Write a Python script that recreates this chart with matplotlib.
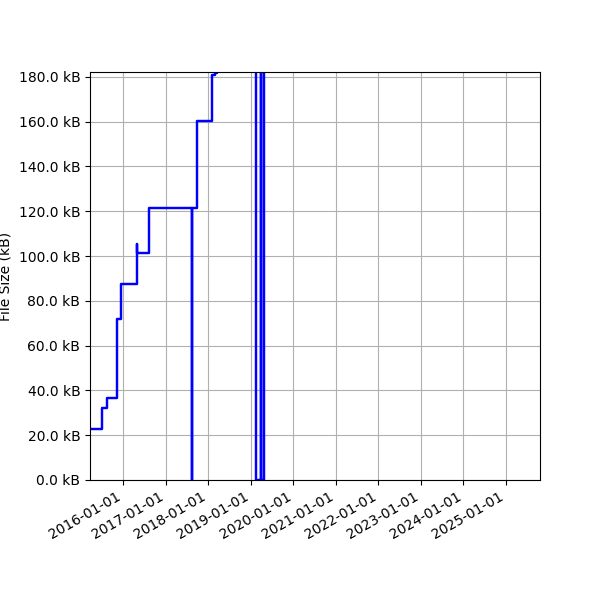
import numpy as np
import pandas as pd
import matplotlib
matplotlib.use("Agg")
import matplotlib.pyplot as plt
import matplotlib.ticker as mticker

# file size history (kB); values above 182 kB fall outside the view
dates = pd.to_datetime([
    "2015-03-21", "2015-07-02", "2015-08-12", "2015-11-05", "2015-12-10",
    "2016-04-25", "2016-04-27", "2016-08-09", "2017-08-15", "2017-08-17",
    "2017-09-29", "2018-02-04", "2018-02-28", "2018-03-17", "2019-02-15",
    "2019-03-29", "2019-03-31", "2019-04-25", "2025-10-20",
])
sizes_kb = [
    22.8, 32.2, 36.8, 71.9, 87.5,
    105.4, 101.4, 121.3, 0.0, 121.3,
    160.3, 180.8, 181.8, 250.0, 0.0,
    260.0, 0.0, 270.0, 300.0,
]

fig, ax = plt.subplots(figsize=(6, 6), dpi=100)
ax.plot(dates, sizes_kb, color="blue", linewidth=1.75, drawstyle="steps-post")
ax.set_xlim(pd.Timestamp("2015-03-21"), pd.Timestamp("2025-10-20"))
ax.set_ylim(0, 182.2)
ax.yaxis.set_major_formatter(mticker.FuncFormatter(lambda v, p: f"{v:.1f} kB"))
ax.yaxis.set_major_locator(mticker.MultipleLocator(20))
ax.xaxis.set_major_locator(matplotlib.dates.YearLocator())
ax.xaxis.set_major_formatter(matplotlib.dates.DateFormatter("%Y-%m-%d"))
ax.set_ylabel("File Size (kB)")
ax.grid(True)
fig.autofmt_xdate()
fig.subplots_adjust(left=0.15, right=0.9, top=0.88, bottom=0.2)
fig.savefig("out.png")
